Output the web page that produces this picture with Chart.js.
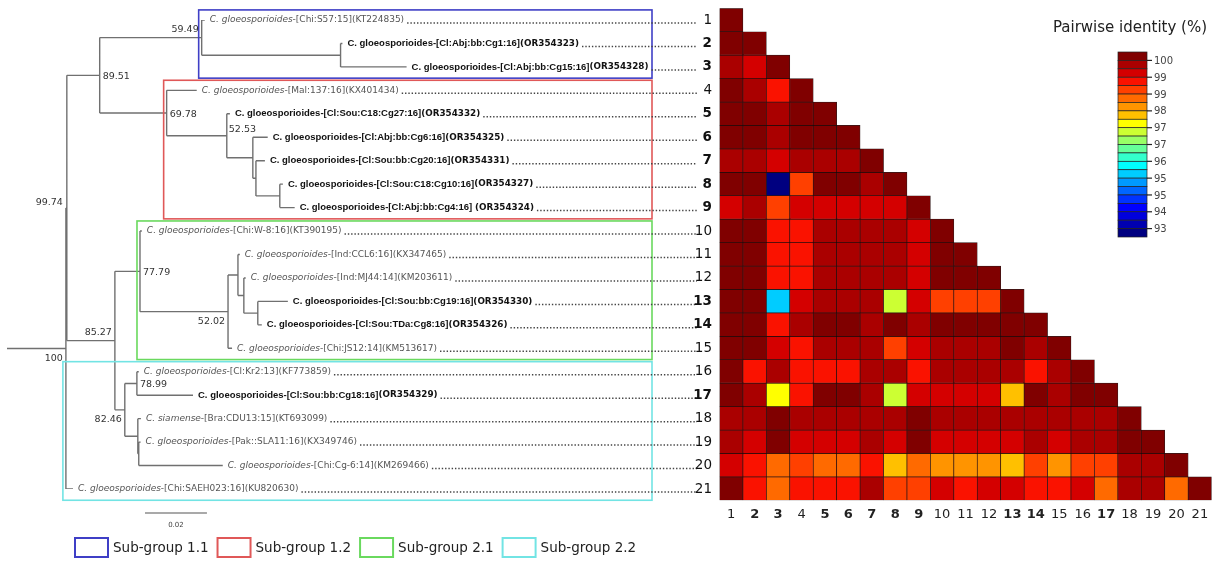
<!DOCTYPE html>
<html><head><meta charset="utf-8">
<script src="https://cdn.jsdelivr.net/npm/chart.js@4.4.0/dist/chart.umd.min.js"></script>
<style>
html,body{margin:0;padding:0;background:#fff;}
#wrap{position:relative;width:1217px;height:562px;overflow:hidden;background:#fff;}
#tree{position:absolute;left:0;top:0;}
#heat{position:absolute;left:715px;top:0;}
</style></head><body>
<div id="wrap">
<canvas id="tree" width="715" height="562"></canvas>
<canvas id="heat" width="502" height="562"></canvas>
</div>
<script>
// ---------------- DATA ----------------
const leafLabels = [
 "C. gloeosporioides-[Chi:S57:15](KT224835)",
 "C. gloeosporioides-[Cl:Abj:bb:Cg1:16](OR354323)",
 "C. gloeosporioides-[Cl:Abj:bb:Cg15:16](OR354328)",
 "C. gloeosporioides-[Mal:137:16](KX401434)",
 "C. gloeosporioides-[Cl:Sou:C18:Cg27:16](OR354332)",
 "C. gloeosporioides-[Cl:Abj:bb:Cg6:16](OR354325)",
 "C. gloeosporioides-[Cl:Sou:bb:Cg20:16](OR354331)",
 "C. gloeosporioides-[Cl:Sou:C18:Cg10:16](OR354327)",
 "C. gloeosporioides-[Cl:Abj:bb:Cg4:16] (OR354324)",
 "C. gloeosporioides-[Chi:W-8:16](KT390195)",
 "C. gloeosporioides-[Ind:CCL6:16](KX347465)",
 "C. gloeosporioides-[Ind:MJ44:14](KM203611)",
 "C. gloeosporioides-[Cl:Sou:bb:Cg19:16](OR354330)",
 "C. gloeosporioides-[Cl:Sou:TDa:Cg8:16](OR354326)",
 "C. gloeosporioides-[Chi:JS12:14](KM513617)",
 "C. gloeosporioides-[Cl:Kr2:13](KF773859)",
 "C. gloeosporioides-[Cl:Sou:bb:Cg18:16](OR354329)",
 "C. siamense-[Bra:CDU13:15](KT693099)",
 "C. gloeosporioides-[Pak::SLA11:16](KX349746)",
 "C. gloeosporioides-[Chi:Cg-6:14](KM269466)",
 "C. gloeosporioides-[Chi:SAEH023:16](KU820630)"
];
const isolateLeaves = [2,3,5,6,7,8,9,13,14,17];

// Neighbour-joining tree: leaf numbers, support values, branch lengths (substitutions/site)
const treeNewick = "((((1:0.0010,(2:0.0006,3:0.0213):0.0448)59.49:0.0329,(4:0.0097,(5:0.0010,(6:0.0048,(7:0.0029,(8:0.0010,9:0.0048):0.0077):0.0010):0.0084)52.53:0.0194)69.78:0.0216)89.51:0.0106,((10:0.0006,((11:0.0006,(12:0.0006,(13:0.0097,14:0.0013):0.0045):0.0019):0.0032,15:0.0013)52.02:0.0284)77.79:0.0081,((16:0.0006,17:0.0181)78.99:0.0039,(18:0.0010,(19:0.0006,20:0.0271):0.0003):0.0042)82.46:0.0032)85.27:0.0155)99.74:0.0003,21:0.0023)100:0.0190;";
const scaleBarValue = 0.02;

const groupNames  = ['Sub-group 1.1','Sub-group 1.2','Sub-group 2.1','Sub-group 2.2'];
const groupFirst  = [1, 4, 10, 16];
const groupLast   = [3, 9, 15, 21];
const groupAnchor = ['59.49','69.78','77.79','100'];
const groupColors = ['#3f3fc6','#e05858','#6ad95e','#72e4e4'];

const columnLabels = ['1','2','3','4','5','6','7','8','9','10','11','12','13','14','15','16','17','18','19','20','21'];
// pairwise identity (%) lower triangle, row i has i values
const identityRows = [
 [100],
 [99.9,100],
 [99.5,99.2,100],
 [99.9,99.5,98.9,100],
 [99.9,99.9,99.5,99.9,100],
 [99.9,99.9,99.5,99.9,99.9,100],
 [99.5,99.5,99.2,99.5,99.5,99.5,100],
 [99.9,99.9,93.2,98.5,99.9,99.9,99.5,100],
 [99.2,99.5,98.6,99.2,99.2,99.2,99.2,99.2,100],
 [99.9,99.9,98.9,98.9,99.5,99.5,99.5,99.5,99.2,100],
 [99.9,99.9,98.9,98.9,99.5,99.5,99.5,99.5,99.2,99.9,100],
 [99.9,99.9,98.9,98.9,99.5,99.5,99.5,99.5,99.2,99.9,99.9,100],
 [99.9,99.9,95.4,99.2,99.5,99.5,99.5,97.0,99.2,98.6,98.6,98.6,100],
 [99.9,99.9,98.9,99.5,99.9,99.9,99.5,99.9,99.5,99.9,99.9,99.9,99.9,100],
 [99.9,99.9,99.2,99.0,99.5,99.5,99.5,98.6,99.2,99.5,99.5,99.5,99.9,99.5,100],
 [99.9,98.9,99.5,98.9,98.9,98.9,99.5,99.5,98.9,99.5,99.5,99.5,99.5,98.9,99.5,100],
 [99.9,99.5,97.3,98.9,99.9,99.9,99.5,97.0,99.2,99.2,99.2,99.2,97.6,99.9,99.5,99.9,100],
 [99.5,99.5,99.9,99.5,99.5,99.5,99.5,99.5,99.9,99.5,99.5,99.5,99.5,99.5,99.5,99.5,99.5,100],
 [99.5,99.2,99.9,99.2,99.2,99.2,99.5,99.2,99.9,99.2,99.2,99.2,99.2,99.5,99.2,99.5,99.5,99.9,100],
 [99.2,98.9,98.3,98.6,98.3,98.3,98.9,97.6,98.3,97.9,97.9,97.9,97.6,98.6,97.9,98.6,98.5,99.5,99.5,100],
 [99.9,98.9,98.3,98.9,99.0,98.9,99.5,98.6,98.6,99.2,98.9,99.2,99.3,98.9,98.9,99.2,98.3,99.5,99.5,98.3,100]
];
const colorbarMin = 93, colorbarMax = 100;
const colorbarTicks = ['100','99','99','98','97','97','96','95','95','94','93'];
const bandColors = ['#800000','#aa0000','#d40000','#fa1200','#ff4000','#ff6a00','#ff9400','#ffc000','#ffff00','#ccff33','#99ff66','#66ff99','#33ffcc','#00ffff','#00ccff','#0099ff','#0066ff','#0033ff','#0000ff','#0000dd','#0000b0','#000080'];

// ---------------- TREE LAYOUT ----------------
function parseNewick(str){
  const s = str.replace(/\s+/g,''); let i = 0;
  function node(){
    const n = {children:[]};
    if (s[i]==='('){ i++; n.children.push(node()); while(s[i]===','){ i++; n.children.push(node()); } i++; }
    let name=''; while(i<s.length && ':,);'.indexOf(s[i])<0) name+=s[i++];
    n.name=name; n.len=0;
    if (s[i]===':'){ i++; let l=''; while(i<s.length && ',);'.indexOf(s[i])<0) l+=s[i++]; n.len=parseFloat(l); }
    return n;
  }
  return node();
}
const treeRoot = parseNewick(treeNewick);
const treeNodes = [];
(function lay(n, d){
  n.parentDepth = d; n.depth = d + n.len;
  n.children.forEach(c => lay(c, n.depth));
  if (n.children.length){ n.leaf=false; n.y=(n.children[0].y + n.children[n.children.length-1].y)/2; }
  else { n.leaf=true; n.num=parseInt(n.name,10); n.y=n.num; }
  treeNodes.push(n);
})(treeRoot, 0);

const branchPoints = [];
treeNodes.forEach(n => {
  branchPoints.push({x:n.parentDepth,y:n.y},{x:n.depth,y:n.y},{x:null,y:null});
  if (!n.leaf){
    branchPoints.push({x:n.depth,y:n.children[0].y},{x:n.depth,y:n.children[n.children.length-1].y},{x:null,y:null});
  }
});

const supportPlacement = {'100':'lb','99.74':'l','89.51':'r','59.49':'la','69.78':'r','52.53':'ra','85.27':'la','77.79':'r','52.02':'lb','82.46':'lb','78.99':'r'};

const treeDeco = {
  id:'treeDeco',
  afterDraw(chart){
    const ctx = chart.ctx, xs = chart.scales.x, ys = chart.scales.y;
    ctx.save();
    // group rectangles
    groupNames.forEach((g,k) => {
      const anchor = treeNodes.find(n => n.name===groupAnchor[k]);
      const x0 = xs.getPixelForValue(anchor.depth) - 3;
      const y0 = ys.getPixelForValue(groupFirst[k]-0.43);
      const y1 = ys.getPixelForValue(groupLast[k]+0.48);
      ctx.strokeStyle = groupColors[k]; ctx.lineWidth = 1.6;
      ctx.strokeRect(x0, y0, 652 - x0, y1 - y0);
    });
    // support values
    ctx.fillStyle = '#333'; ctx.font = "9.5px 'DejaVu Sans'"; ctx.textBaseline='middle';
    treeNodes.forEach(n => {
      if (n.leaf || !supportPlacement[n.name]) return;
      const px = xs.getPixelForValue(n.depth), py = ys.getPixelForValue(n.y);
      const p = supportPlacement[n.name];
      if (p==='r'){ ctx.textAlign='left'; ctx.fillText(n.name, px+3, py+1); }
      else if (p==='ra'){ ctx.textAlign='left'; ctx.fillText(n.name, px+2, py-6); }
      else if (p==='la'){ ctx.textAlign='right'; ctx.fillText(n.name, px-3, py-8); }
      else if (p==='lb'){ ctx.textAlign='right'; ctx.fillText(n.name, px-3, py+10); }
      else { ctx.textAlign='right'; ctx.fillText(n.name, px-4, py-5); }
    });
    // leaf labels, leaders and numbers
    treeNodes.filter(n=>n.leaf).forEach(n => {
      const px = xs.getPixelForValue(n.depth) + 5, py = ys.getPixelForValue(n.y);
      const lab = leafLabels[n.num-1];
      const iso = isolateLeaves.includes(n.num);
      ctx.textAlign='left'; ctx.textBaseline='middle';
      let x = px;
      if (iso){
        const cut = lab.lastIndexOf('(');
        const a = lab.slice(0,cut), b = lab.slice(cut);
        ctx.fillStyle = '#111';
        ctx.font = "bold 9.5px 'Liberation Sans'"; ctx.fillText(a, x, py); x += ctx.measureText(a).width;
        ctx.font = "bold 8.8px 'DejaVu Sans'"; ctx.fillText(b, x, py); x += ctx.measureText(b).width;
      } else {
        const cut = lab.indexOf('-');
        const a = lab.slice(0,cut), b = lab.slice(cut);
        ctx.fillStyle = '#555';
        ctx.font = "italic 9px 'DejaVu Sans'"; ctx.fillText(a, x, py); x += ctx.measureText(a).width;
        ctx.font = "9px 'DejaVu Sans'"; ctx.fillText(b, x, py); x += ctx.measureText(b).width;
      }
      // dotted leader
      ctx.strokeStyle = '#444'; ctx.lineWidth = 1.5; ctx.setLineDash([1.4, 1.9]);
      ctx.beginPath(); ctx.moveTo(x+3, py+3); ctx.lineTo(697, py+3); ctx.stroke();
      ctx.setLineDash([]);
      ctx.fillStyle = '#111'; ctx.textAlign='right';
      ctx.font = (iso ? 'bold ' : '') + "13.5px 'DejaVu Sans'";
      ctx.fillText(String(n.num), 712, py);
    });
    // scale bar
    const sx0 = xs.getPixelForValue(0.0445), sx1 = xs.getPixelForValue(0.0445 + scaleBarValue);
    ctx.strokeStyle = '#555'; ctx.lineWidth = 1.2;
    ctx.beginPath(); ctx.moveTo(sx0, 513); ctx.lineTo(sx1, 513); ctx.stroke();
    ctx.fillStyle = '#444'; ctx.font = "7px 'DejaVu Sans'"; ctx.textAlign='center';
    ctx.fillText(String(scaleBarValue), (sx0+sx1)/2, 525);
    // legend
    let lx = 75;
    ctx.font = "13.5px 'DejaVu Sans'"; ctx.textAlign='left'; ctx.textBaseline='middle';
    groupNames.forEach((g,k) => {
      ctx.strokeStyle = groupColors[k]; ctx.lineWidth = 2;
      ctx.strokeRect(lx, 538, 33, 19);
      ctx.fillStyle = '#222';
      ctx.fillText(g, lx+38, 548);
      lx += 38 + ctx.measureText(g).width + 9;
    });
    ctx.restore();
  }
};

new Chart(document.getElementById('tree'), {
  type:'line',
  data:{ datasets:[{ data: branchPoints, borderColor:'#707070', borderWidth:1.4, pointRadius:0, spanGaps:false, tension:0 }] },
  options:{
    responsive:false, animation:false, events:[],
    layout:{ padding:{ left:7, right:88, top:20, bottom:73 } },
    plugins:{ legend:{display:false}, tooltip:{enabled:false} },
    scales:{
      x:{ type:'linear', min:0, max:0.2, display:false },
      y:{ type:'linear', min:1, max:21, reverse:true, display:false }
    }
  },
  plugins:[treeDeco]
});

// ---------------- HEATMAP ----------------
function colorFor(v){
  const w = (colorbarMax - colorbarMin) / bandColors.length;
  const b = Math.min(bandColors.length-1, Math.max(0, Math.floor((colorbarMax - v) / w)));
  return bandColors[b];
}
const heatDatasets = identityRows.map((row, r) => {
  const i = r + 1;
  return {
    data: columnLabels.map((c, j) => j < row.length ? [i-0.5, i+0.5] : null),
    backgroundColor: columnLabels.map((c, j) => j < row.length ? colorFor(row[j]) : 'rgba(0,0,0,0)'),
    borderColor: 'rgba(25,0,0,0.9)', borderWidth: 0.7, borderSkipped: false,
    barPercentage: 1, categoryPercentage: 1, grouped: false
  };
});

const colorbarDeco = {
  id:'colorbarDeco',
  afterDraw(chart){
    const ctx = chart.ctx;
    ctx.save();
    const bx = 403, bw = 29, top = 52, h = 185;
    const bh = h / bandColors.length;
    bandColors.forEach((c,k) => {
      ctx.fillStyle = c; ctx.fillRect(bx, top + k*bh, bw, bh);
      ctx.strokeStyle = '#222'; ctx.lineWidth = 0.7; ctx.strokeRect(bx, top + k*bh, bw, bh);
    });
    ctx.font = "10px 'DejaVu Sans'"; ctx.fillStyle = '#444'; ctx.textAlign='left'; ctx.textBaseline='middle';
    colorbarTicks.forEach((t,k) => {
      const ty = top + (k+0.5) * h / colorbarTicks.length;
      ctx.strokeStyle = '#222'; ctx.lineWidth = 1.2;
      ctx.beginPath(); ctx.moveTo(bx+bw, ty); ctx.lineTo(bx+bw+5, ty); ctx.stroke();
      ctx.fillText(t, bx+bw+7, ty+1);
    });
    ctx.font = "15px 'DejaVu Sans'"; ctx.fillStyle = '#222'; ctx.textAlign='center';
    ctx.fillText('Pairwise identity (%)', 415, 28);
    ctx.restore();
  }
};

new Chart(document.getElementById('heat'), {
  type:'bar',
  data:{ labels: columnLabels, datasets: heatDatasets },
  options:{
    responsive:false, animation:false, events:[],
    layout:{ padding:{ left:4.5, right:5.4, top:8.3, bottom:32 } },
    plugins:{ legend:{display:false}, tooltip:{enabled:false} },
    scales:{
      x:{ type:'category', offset:true,
          grid:{display:false, drawTicks:false}, border:{display:false},
          afterFit(scale){ scale.height = 29.7; },
          ticks:{ autoSkip:false, maxRotation:0, padding:7, color:'#222',
            font:(c) => ({family:'DejaVu Sans', size:13, weight: isolateLeaves.includes(c.index+1) ? 'bold' : 'normal'}) } },
      y:{ type:'linear', min:0.5, max:21.5, reverse:true, display:false }
    }
  },
  plugins:[colorbarDeco]
});
</script>
</body></html>
